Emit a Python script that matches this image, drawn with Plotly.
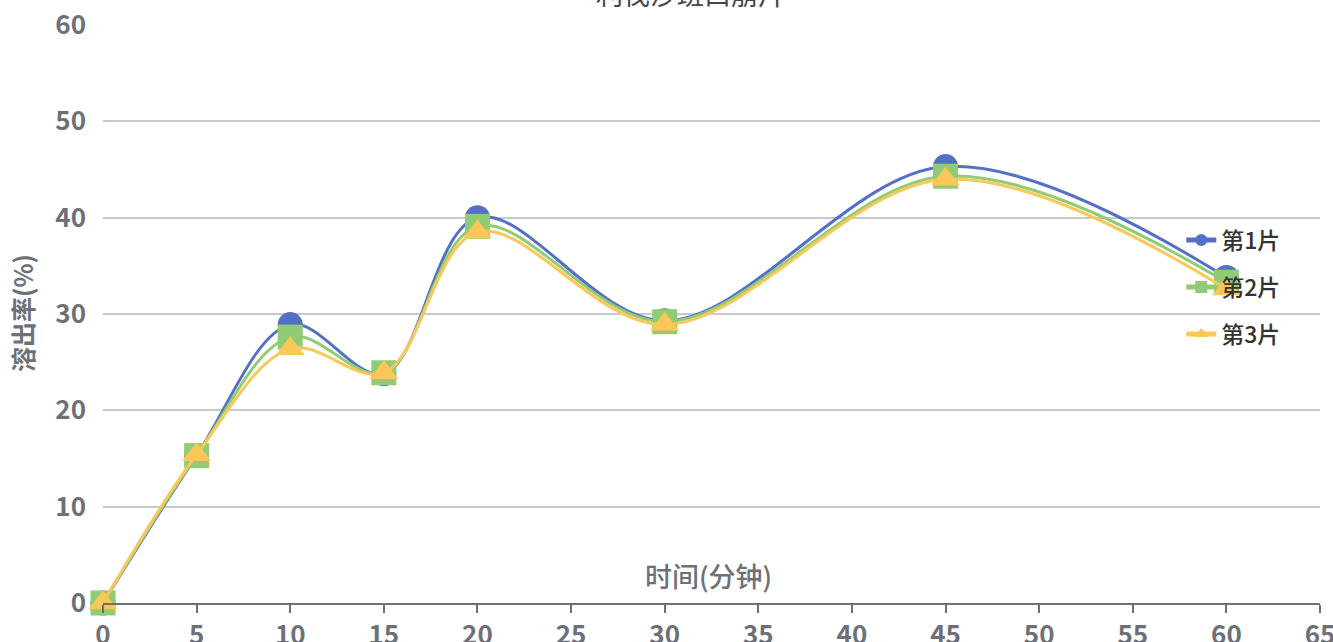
import plotly.graph_objects as go

times = [0, 5, 10, 15, 20, 30, 45, 60]
s1 = [0, 15.3, 28.9, 23.8, 40.0, 29.3, 45.3, 33.8]
s2 = [0, 15.3, 27.6, 23.9, 39.1, 29.2, 44.3, 33.3]
s3 = [0, 15.4, 26.4, 23.9, 38.5, 28.9, 44.0, 32.6]
names = ["第1片", "第2片", "第3片"]
colors = ["#5470c6", "#91cc75", "#fac858"]
symbols = ["circle", "square", "triangle-up"]
title_text = "利伐沙班口崩片"

font_family = "Noto Sans CJK SC, Noto Sans, sans-serif"
fig = go.Figure()
for ys, n, c, s in zip([s1, s2, s3], names, colors, symbols):
    fig.add_trace(go.Scatter(
        x=times, y=ys, name=n, mode="lines+markers", legendgroup=n,
        cliponaxis=False,
        line=dict(color=c, width=3, shape="spline", smoothing=1.0),
        marker=dict(symbol=s, size=25, color=c, line=dict(width=0)),
    ))

fig.update_layout(
    width=1333, height=642,
    margin=dict(l=103, r=13, t=25, b=39, autoexpand=False),
    plot_bgcolor="white", paper_bgcolor="white",
    font=dict(family=font_family, color="#6e7079"),
    showlegend=True,
    legend=dict(x=0.886, y=0.665, xanchor="left", yanchor="top",
                bgcolor="rgba(0,0,0,0)", font=dict(size=23, color="#333", weight=500),
                itemsizing="constant", tracegroupgap=14),
    xaxis=dict(range=[0, 65], dtick=5, tick0=0, showgrid=False, automargin=False,
               showline=True, linecolor="#6e7079", linewidth=2,
               ticks="outside", ticklen=8, tickcolor="#6e7079", tickwidth=2,
               ticklabeloverflow="allow",
               tickfont=dict(size=26, family=font_family, color="#6e7079", weight="bold"),
               zeroline=False),
    yaxis=dict(range=[0, 60], dtick=10, showgrid=True, gridcolor="#c8c8d0", gridwidth=2,
               showline=False, zeroline=False, ticks="", automargin=False,
               ticklabeloverflow="allow",
               tickfont=dict(size=26, family=font_family, color="#6e7079", weight="bold"),
               ticklabelstandoff=16),
)

fig.add_annotation(text="时间(分钟)", xref="paper", yref="paper", x=(708-103)/1217, y=(603-597)/578,
                   xanchor="center", yanchor="bottom", showarrow=False,
                   font=dict(size=27, color="#6e7079", family=font_family, weight=500))
fig.add_annotation(text="溶出率(%)", xref="paper", yref="paper", x=(22-103)/1217, y=(603-313)/578,
                   xanchor="center", yanchor="middle", showarrow=False, textangle=-90,
                   font=dict(size=25, color="#6e7079", family=font_family, weight="bold"))
fig.add_annotation(text=title_text, xref="paper", yref="paper", x=(690-103)/1217, y=(603+6)/578,
                   xanchor="center", yanchor="middle", showarrow=False,
                   font=dict(size=27, color="#464646", family=font_family))

fig.write_html("out.html", post_script="document.body.style.margin='0';",
               config={"displayModeBar": False})
